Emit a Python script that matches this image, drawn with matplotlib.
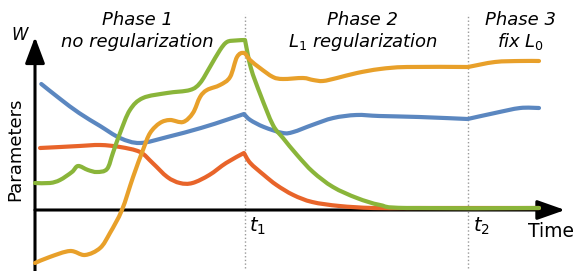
import matplotlib
matplotlib.use("Agg")
import matplotlib.pyplot as plt
from matplotlib.path import Path
from matplotlib.patches import PathPatch

# time axis: t1 = 10, t2 = 20.6 ; parameter axis: 0 on the time axis
T1 = 10.0
T2 = 20.6

blue_t = [0.3, 1.2, 2.1, 3.1, 4.05, 5.0, 6.3, 7.9, 9.1, 9.95, 10.25, 10.9, 11.8,
          12.3, 13.2, 14.2, 15.3, 16.4, 18.3, 20.6, 21.9, 23.1, 24.0]
blue_w = [12.6, 11.1, 9.7, 8.4, 7.2, 6.7, 7.3, 8.2, 9.0, 9.6, 9.0, 8.3, 7.7,
          7.8, 8.5, 9.2, 9.5, 9.4, 9.3, 9.1, 9.7, 10.2, 10.2]

red_t = [0.24, 1.2, 2.1, 3.1, 4.05, 5.0, 5.6, 6.3, 6.9, 7.5, 8.3, 9.1, 9.95,
         10.25, 10.9, 11.5, 12.3, 13.2, 14.5, 16.1, 18.3, 24.0]
red_w = [6.2, 6.3, 6.4, 6.5, 6.3, 5.8, 4.7, 3.3, 2.7, 2.7, 3.5, 4.7, 5.7,
         4.7, 3.5, 2.5, 1.5, 0.8, 0.4, 0.2, 0.2, 0.2]

green_t = [0.0, 0.71, 1.19, 1.76, 2.05, 2.52, 2.95, 3.43, 3.71, 4.05, 4.52, 5.14,
           6.29, 7.38, 7.86, 8.33, 8.81, 9.14, 9.55, 10.0, 10.28, 10.74, 11.33,
           11.81, 12.48, 13.24, 14.19, 15.33, 16.43, 17.71, 24.0]
green_w = [2.7, 2.7, 3.0, 3.8, 4.4, 4.0, 3.8, 4.1, 5.7, 7.7, 10.0, 11.2,
           11.7, 12.0, 12.7, 14.3, 16.0, 16.8, 16.95, 17.0, 14.2, 11.5, 8.5,
           7.2, 5.5, 3.8, 2.3, 1.2, 0.5, 0.2, 0.2]

orange_t = [0.0, 0.7, 1.67, 2.38, 3.1, 3.57, 4.14, 4.67, 5.14, 5.48, 5.95, 6.43,
            7.05, 7.52, 7.86, 8.19, 8.81, 9.29, 9.62, 9.95, 10.24, 10.71, 11.33,
            11.81, 12.76, 13.24, 13.71, 14.38, 15.33, 16.43, 17.71, 20.62, 21.9,
            23.1, 24.0]
orange_w = [-5.3, -4.7, -4.1, -4.5, -3.8, -2.3, 0.0, 3.3, 6.0, 7.7, 8.7, 9.0,
            8.8, 9.7, 11.3, 12.0, 12.5, 13.3, 15.3, 15.7, 15.0, 14.2, 13.3,
            13.1, 13.2, 13.0, 12.9, 13.2, 13.7, 14.1, 14.3, 14.3, 14.8,
            14.9, 14.9]

phase_x = [4.86, 15.6, 23.1]
phase_titles = ["Phase 1", "Phase 2", "Phase 3"]
phase_subtitles = ["no regularization", r"$\mathit{L}_{\mathit{1}}$ regularization",
                   r"fix $\mathit{L}_{\mathit{0}}$"]


def smooth_path(xs, ys, corners=()):
    # bezier curve through the points; corners are indices kept sharp
    pts = list(zip(xs, ys))
    verts = [pts[0]]
    codes = [Path.MOVETO]
    n = len(pts)
    for i in range(n - 1):
        p0 = pts[i - 1] if i > 0 and i not in corners else pts[i]
        p1 = pts[i]
        p2 = pts[i + 1]
        p3 = pts[i + 2] if i + 2 < n and (i + 1) not in corners else pts[i + 1]
        c1 = (p1[0] + (p2[0] - p0[0]) / 6, p1[1] + (p2[1] - p0[1]) / 6)
        c2 = (p2[0] - (p3[0] - p1[0]) / 6, p2[1] - (p3[1] - p1[1]) / 6)
        verts += [c1, c2, p2]
        codes += [Path.CURVE4] * 3
    return Path(verts, codes)


fig = plt.figure(figsize=(5.76, 2.71), dpi=100)
ax = fig.add_axes([0, 0, 1, 1])
ax.set_xlim(-35 / 21, 541 / 21)
ax.set_ylim(-6.1, 21.0)
ax.axis("off")

# phase separators
for t in [T1, T2]:
    ax.plot([t, t], [-5.8, 19.6], color="#999999", ls=":", lw=1.0, zorder=1)

# axes with arrows
ax.annotate("", xy=(25.24, 0), xytext=(0, 0),
            arrowprops=dict(arrowstyle="-|>,head_length=0.85,head_width=0.3",
                            lw=2.2, color="black", mutation_scale=20,
                            shrinkA=0, shrinkB=0), zorder=2)
ax.annotate("", xy=(0, 17.3), xytext=(0, -6.2),
            arrowprops=dict(arrowstyle="-|>,head_length=0.8,head_width=0.3",
                            lw=2.2, color="black", mutation_scale=20,
                            shrinkA=0, shrinkB=0), zorder=2)

series = [
    (red_t, red_w, "#e8642a", (12,), 3),
    (blue_t, blue_w, "#5b87c0", (9, 19), 3),
    (green_t, green_w, "#8ab53a", (19,), 4),
    (orange_t, orange_w, "#e8a02a", (31,), 5),
]
for xs, ys, c, corners, z in series:
    ax.add_patch(PathPatch(smooth_path(xs, ys, corners), fill=False, edgecolor=c,
                           lw=3.0, joinstyle="round", capstyle="round", zorder=z))

for x, a, b in zip(phase_x, phase_titles, phase_subtitles):
    ax.text(x, 18.5, a, ha="center", va="baseline", fontsize=13, style="italic")
    ax.text(x, 16.3, b, ha="center", va="baseline", fontsize=13, style="italic")

ax.text(-0.71, 17.0, "W", ha="center", va="baseline", fontsize=12, style="italic")
ax.text(-0.95, 6.1, "Parameters", rotation=90, ha="center", va="center", fontsize=13)
ax.text(24.57, -2.7, "Time", ha="center", va="baseline", fontsize=13.5)
ax.text(10.2, -2.2, r"$\mathit{t}_{\mathit{1}}$", ha="left", va="baseline", fontsize=14)
ax.text(20.85, -2.2, r"$\mathit{t}_{\mathit{2}}$", ha="left", va="baseline", fontsize=14)

fig.savefig("out.png", dpi=100)
